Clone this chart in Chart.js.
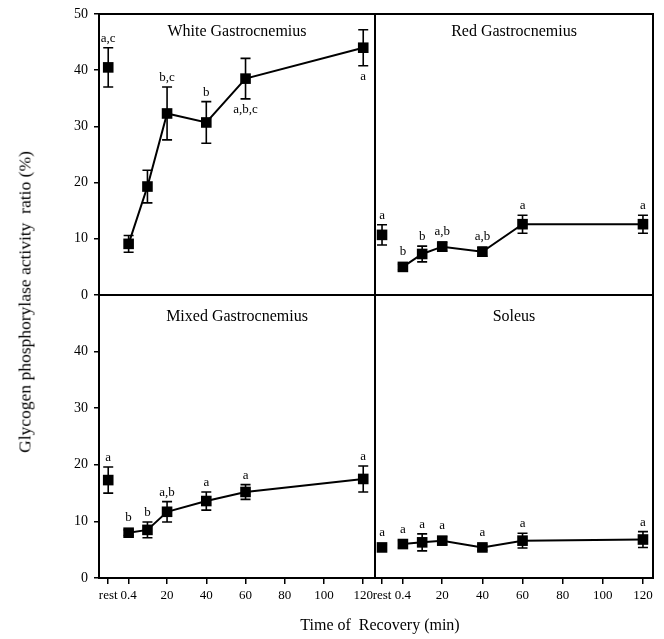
<!DOCTYPE html>
<html>
<head>
<meta charset="utf-8">
<script src="https://cdn.jsdelivr.net/npm/chart.js@4"></script>
<style>
    body { margin: 0; background: #fff; }
    #wrap { position: relative; width: 664px; height: 639px; font-family: "Liberation Serif", serif; color: #000; }
    #wrap canvas { position: absolute; }
    .ytitle {
        position: absolute; left: 25px; top: 302px; font-size: 17.5px; white-space: pre;
        transform: translate(-50%, -50%) rotate(-90deg);
    }
    .xtitle {
        position: absolute; left: 380px; top: 625px; font-size: 16px; white-space: pre;
        transform: translate(-50%, -50%);
    }
</style>
</head>
<body>
<div id="wrap">
    <canvas id="whiteChart" style="left:0;top:0" width="380" height="300"></canvas>
    <canvas id="redChart" style="left:370px;top:0" width="294" height="300"></canvas>
    <canvas id="mixedChart" style="left:0;top:290px" width="380" height="340"></canvas>
    <canvas id="soleusChart" style="left:370px;top:290px" width="294" height="340"></canvas>
    <div class="ytitle">Glycogen phosphorylase activity  ratio (%)</div>
    <div class="xtitle">Time of  Recovery (min)</div>
</div>
<script>
// 時間點 (rest 畫在 0.4 左邊)
const timeLabels = ['rest', '0.4', '10', '20', '40', '60', '120'];
const timeValues = [-10, 0.4, 10, 20, 40, 60, 120];
const xTickValues = [-10, 0.4, 20, 40, 60, 80, 100, 120];
const xTickLabels = ['rest', '0.4', '20', '40', '60', '80', '100', '120'];
const yTicksTop = [0, 10, 20, 30, 40, 50];
const yTicksBottom = [0, 10, 20, 30, 40];

const panelTitles = ['White Gastrocnemius', 'Red Gastrocnemius', 'Mixed Gastrocnemius', 'Soleus'];

// White Gastrocnemius
const whiteMean = [40.5, 9.1, 19.3, 32.3, 30.7, 38.5, 44.0];
const whiteErr = [3.5, 1.5, 2.9, 4.7, 3.7, 3.6, 3.2];
const whiteLetters = ['a,c', '', '', 'b,c', 'b', 'a,b,c', 'a'];
const whiteLetterSide = ['up', 'up', 'up', 'up', 'up', 'down', 'down'];

// Red Gastrocnemius
const redMean = [10.7, 5.0, 7.3, 8.6, 7.7, 12.6, 12.6];
const redErr = [1.8, 0.5, 1.4, 0.8, 0.8, 1.6, 1.6];
const redLetters = ['a', 'b', 'b', 'a,b', 'a,b', 'a', 'a'];

// Mixed Gastrocnemius
const mixedMean = [17.3, 8.0, 8.5, 11.7, 13.6, 15.2, 17.5];
const mixedErr = [2.3, 0.5, 1.4, 1.8, 1.6, 1.3, 2.3];
const mixedLetters = ['a', 'b', 'b', 'a,b', 'a', 'a', 'a'];

// Soleus
const soleusMean = [5.4, 6.0, 6.3, 6.6, 5.4, 6.6, 6.8];
const soleusErr = [0.5, 0.6, 1.5, 0.7, 0.5, 1.3, 1.4];
const soleusLetters = ['a', 'a', 'a', 'a', 'a', 'a', 'a'];

const FONT = '"Liberation Serif", serif';

// 建立一個面板
function makePanel(id, p) {
    const ctx = document.getElementById(id);
    const pts = timeValues.map((x, i) => ({ x: x, y: p.mean[i] }));

    // 外框、標題、誤差線、字母
    const panelPlugin = {
        id: 'panel_' + id,
        beforeDatasetsDraw(chart) {
            const c = chart.ctx;
            const a = chart.chartArea;
            const xs = chart.scales.x;
            const ys = chart.scales.y;
            c.save();
            c.strokeStyle = '#000';
            c.lineWidth = 2;
            c.strokeRect(a.left, a.top, a.right - a.left, a.bottom - a.top);
            // 誤差線
            c.lineWidth = 1.6;
            p.mean.forEach((m, i) => {
                const x = xs.getPixelForValue(timeValues[i]);
                const yt = ys.getPixelForValue(m + p.err[i]);
                const yb = ys.getPixelForValue(m - p.err[i]);
                c.beginPath();
                c.moveTo(x, yt); c.lineTo(x, yb);
                c.moveTo(x - 5, yt); c.lineTo(x + 5, yt);
                c.moveTo(x - 5, yb); c.lineTo(x + 5, yb);
                c.stroke();
            });
            // 標題
            c.fillStyle = '#000';
            c.font = '16px ' + FONT;
            c.textAlign = 'center';
            c.textBaseline = 'middle';
            c.fillText(p.title, (a.left + a.right) / 2, a.top + p.titleOffset);
            c.restore();
        },
        afterDatasetsDraw(chart) {
            const c = chart.ctx;
            const xs = chart.scales.x;
            const ys = chart.scales.y;
            c.save();
            c.fillStyle = '#000';
            c.font = '13px ' + FONT;
            c.textAlign = 'center';
            c.textBaseline = 'alphabetic';
            p.letters.forEach((txt, i) => {
                if (!txt) return;
                const x = xs.getPixelForValue(timeValues[i]);
                const y = ys.getPixelForValue(p.mean[i]);
                const side = p.side ? p.side[i] : 'up';
                if (side === 'up') {
                    const top = Math.min(ys.getPixelForValue(p.mean[i] + p.err[i]), y - 5.5);
                    c.fillText(txt, x, top - 6);
                } else {
                    const bot = Math.max(ys.getPixelForValue(p.mean[i] - p.err[i]), y + 5.5);
                    c.fillText(txt, x, bot + 14);
                }
            });
            c.restore();
        }
    };

    return new Chart(ctx, {
        type: 'line',
        data: {
            datasets: [
                {
                    label: 'rest',
                    data: pts.slice(0, 1),
                    showLine: false,
                    pointStyle: 'rect',
                    pointRadius: 7.5,
                    pointBackgroundColor: '#000',
                    pointBorderColor: '#000',
                    pointBorderWidth: 0
                },
                {
                    label: 'recovery',
                    data: pts.slice(1),
                    borderColor: '#000',
                    borderWidth: 2,
                    tension: 0,
                    pointStyle: 'rect',
                    pointRadius: 7.5,
                    pointBackgroundColor: '#000',
                    pointBorderColor: '#000',
                    pointBorderWidth: 0
                }
            ]
        },
        options: {
            responsive: false,
            animation: false,
            events: [],
            layout: { padding: p.padding, autoPadding: false },
            plugins: {
                legend: { display: false },
                tooltip: { enabled: false }
            },
            scales: {
                x: {
                    type: 'linear',
                    min: p.xMin,
                    max: p.xMax,
                    display: p.bottom,
                    afterBuildTicks: s => { s.ticks = xTickValues.map(v => ({ value: v })); },
                    afterFit: s => {
                        s.height = p.bottom ? 52 : 0;
                        s.paddingLeft = 0;
                        s.paddingRight = 0;
                    },
                    border: { display: false },
                    grid: { drawOnChartArea: false, drawTicks: true, tickLength: 6, color: '#000', lineWidth: 1.5 },
                    ticks: {
                        autoSkip: false,
                        maxRotation: 0,
                        padding: 4,
                        color: '#000',
                        font: { family: FONT, size: 13 },
                        callback: (v, i) => xTickLabels[i]
                    }
                },
                y: {
                    min: 0,
                    max: 50,
                    display: p.left,
                    afterBuildTicks: s => { s.ticks = p.yTicks.map(v => ({ value: v })); },
                    afterFit: s => {
                        s.width = p.left ? 99 : 0;
                        s.paddingTop = 0;
                        s.paddingBottom = 0;
                    },
                    border: { display: false },
                    grid: { drawOnChartArea: false, drawTicks: true, tickLength: 5, color: '#000', lineWidth: 1.5 },
                    ticks: {
                        padding: 6,
                        color: '#000',
                        font: { family: FONT, size: 14 }
                    }
                }
            }
        },
        plugins: [panelPlugin]
    });
}

makePanel('whiteChart', {
    mean: whiteMean, err: whiteErr, letters: whiteLetters, side: whiteLetterSide,
    title: panelTitles[0], titleOffset: 18, yTicks: yTicksTop,
    left: true, bottom: false, xMin: -14.7, xMax: 126,
    padding: { top: 14, right: 5, bottom: 5, left: 0 }
});
makePanel('redChart', {
    mean: redMean, err: redErr, letters: redLetters,
    title: panelTitles[1], titleOffset: 18, yTicks: yTicksTop,
    left: false, bottom: false, xMin: -13.5, xMax: 125,
    padding: { top: 14, right: 11, bottom: 5, left: 5 }
});
makePanel('mixedChart', {
    mean: mixedMean, err: mixedErr, letters: mixedLetters,
    title: panelTitles[2], titleOffset: 22, yTicks: yTicksBottom,
    left: true, bottom: true, xMin: -14.7, xMax: 126,
    padding: { top: 5, right: 5, bottom: 0, left: 0 }
});
makePanel('soleusChart', {
    mean: soleusMean, err: soleusErr, letters: soleusLetters,
    title: panelTitles[3], titleOffset: 22, yTicks: yTicksBottom,
    left: false, bottom: true, xMin: -13.5, xMax: 125,
    padding: { top: 5, right: 11, bottom: 0, left: 5 }
});
</script>
</body>
</html>
